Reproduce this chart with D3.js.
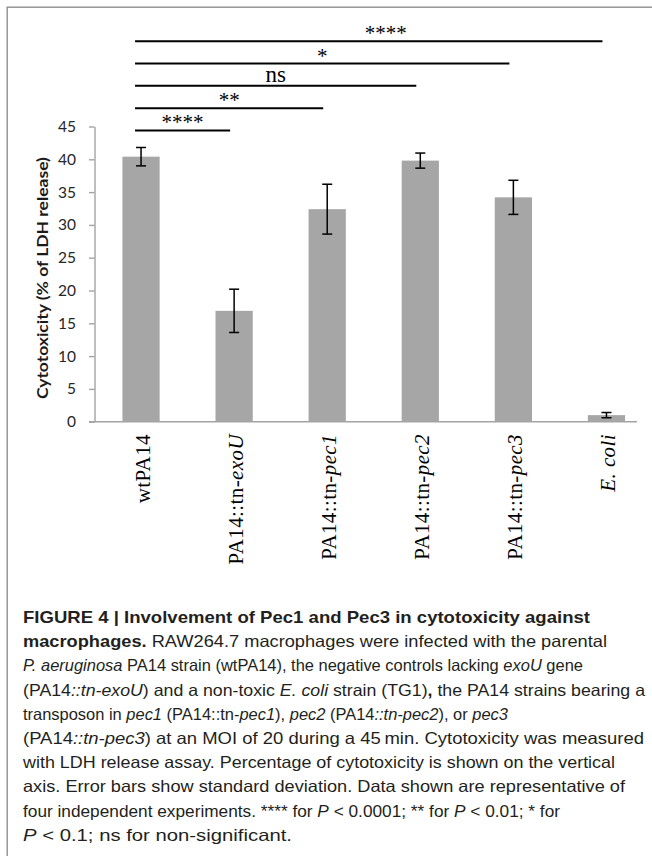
<!DOCTYPE html>
<html>
<head>
<meta charset="utf-8">
<script src="https://cdn.jsdelivr.net/npm/d3@7"></script>
<style>
  html, body { margin: 0; padding: 0; background: #fff; }
  svg { display: block; }
</style>
</head>
<body>
<svg id="chart" width="652" height="856"></svg>
<script>
// ---------------- data ----------------
const categories = ["wtPA14", "PA14::tn-exoU", "PA14::tn-pec1", "PA14::tn-pec2", "PA14::tn-pec3", "E. coli"];
const labelPlain  = ["wtPA14", "PA14::tn-", "PA14::tn-", "PA14::tn-", "PA14::tn-", ""];
const labelItalic = ["", "exoU", "pec1", "pec2", "pec3", "E. coli"];
const cytotoxicity = [40.4, 16.9, 32.4, 39.8, 34.2, 1.0];
const stdDev = [1.4, 3.3, 3.8, 1.15, 2.6, 0.4];
const yTicks = [0, 5, 10, 15, 20, 25, 30, 35, 40, 45];
const yTitle = "Cytotoxicity (% of LDH release)";

// significance brackets: wtPA14 vs target
const sigTargets = ["PA14::tn-exoU", "PA14::tn-pec1", "PA14::tn-pec2", "PA14::tn-pec3", "E. coli"];
const sigLabels  = ["****", "**", "ns", "*", "****"];
const sigLevels  = [44.4, 47.8, 51.2, 54.6, 58.0];

// caption: segments [text, style] (r regular, b bold, i italic)
const captionLines = [
  [["FIGURE 4 | Involvement of Pec1 and Pec3 in cytotoxicity against", "b"]],
  [["macrophages.", "b"], [" RAW264.7 macrophages were infected with the parental", "r"]],
  [["P. aeruginosa", "i"], [" PA14 strain (wtPA14), the negative controls lacking ", "r"], ["exoU", "i"], [" gene", "r"]],
  [["(PA14", "r"], ["::tn-exoU", "i"], [") and a non-toxic ", "r"], ["E. coli", "i"], [" strain (TG1)", "r"], [",", "b"], [" the PA14 strains bearing a", "r"]],
  [["transposon in ", "r"], ["pec1", "i"], [" (PA14::tn-", "r"], ["pec1", "i"], ["), ", "r"], ["pec2", "i"], [" (PA14", "r"], ["::tn-pec2", "i"], ["), or ", "r"], ["pec3", "i"]],
  [["(PA14", "r"], ["::tn-pec3", "i"], [") at an MOI of 20 during a 45\u2009min. Cytotoxicity was measured", "r"]],
  [["with LDH release assay. Percentage of cytotoxicity is shown on the vertical", "r"]],
  [["axis. Error bars show standard deviation. Data shown are representative of", "r"]],
  [["four independent experiments. **** for ", "r"], ["P", "i"], [" < 0.0001; ** for ", "r"], ["P", "i"], [" < 0.01; * for", "r"]],
  [["P", "i"], [" < 0.1; ns for non-significant.", "r"]]
];

// ---------------- layout ----------------
const axisX = 94.5, plotRight = 637, bandRight = 653;
const yBottom = 421.7, yTop = 126.5;
const captionLeft = 23, captionTop = 623, captionLineH = 24.2;
const captionRightEnds = [590, 607, 583, 645, 508, 644, 615, 625, 560, 292];

const svg = d3.select("#chart");

// frame
svg.append("rect")
  .attr("x", 7.2).attr("y", 7.2).attr("width", 700).attr("height", 900)
  .attr("fill", "none").attr("stroke", "#8f8f8f").attr("stroke-width", 1.4);

const x = d3.scaleBand().domain(categories).range([axisX, bandRight])
  .paddingInner(0.6).paddingOuter(0.3);
const y = d3.scaleLinear().domain([0, 45]).range([yBottom, yTop]);

// y axis
const yAxis = d3.axisLeft(y).tickValues(yTicks).tickSize(5.5).tickSizeOuter(0).tickPadding(13);
const gy = svg.append("g").attr("transform", `translate(${axisX},0)`).call(yAxis);
gy.selectAll("path.domain").attr("stroke", "#a3a3a3").attr("stroke-width", 1.4);
gy.selectAll(".tick line").attr("stroke", "#a3a3a3").attr("stroke-width", 1.4);
gy.selectAll(".tick text")
  .attr("font-family", "Lato, 'Open Sans', sans-serif")
  .attr("font-size", 15.5).attr("fill", "#262626");

// x baseline
svg.append("line")
  .attr("x1", axisX - 5.5).attr("x2", plotRight)
  .attr("y1", y(0)).attr("y2", y(0))
  .attr("stroke", "#a3a3a3").attr("stroke-width", 1.4);

// y title
svg.append("text")
  .attr("transform", `translate(48,${(yBottom + yTop) / 2 + 4}) rotate(-90)`)
  .attr("text-anchor", "middle")
  .attr("font-family", "Lato, 'Open Sans', sans-serif")
  .attr("font-weight", "bold").attr("font-size", 15.5).attr("fill", "#1a1a1a")
  .attr("textLength", 242).attr("lengthAdjust", "spacingAndGlyphs")
  .text(yTitle);

// bars
svg.append("g").selectAll("rect").data(categories).join("rect")
  .attr("x", d => x(d))
  .attr("y", (d, i) => y(cytotoxicity[i]))
  .attr("width", x.bandwidth())
  .attr("height", (d, i) => y(0) - y(cytotoxicity[i]))
  .attr("fill", "#a6a6a6");

// error bars
const eg = svg.append("g").attr("stroke", "#000").attr("stroke-width", 1.5);
categories.forEach((c, i) => {
  const cx = x(c) + x.bandwidth() / 2;
  const hi = y(cytotoxicity[i] + stdDev[i]), lo = y(cytotoxicity[i] - stdDev[i]);
  eg.append("line").attr("x1", cx).attr("x2", cx).attr("y1", hi).attr("y2", lo);
  eg.append("line").attr("x1", cx - 5).attr("x2", cx + 5).attr("y1", hi).attr("y2", hi);
  eg.append("line").attr("x1", cx - 5).attr("x2", cx + 5).attr("y1", lo).attr("y2", lo);
});

// x labels
categories.forEach((c, i) => {
  const cx = x(c) + x.bandwidth() / 2 + 1.5;
  const t = svg.append("text")
    .attr("transform", `translate(${cx},${434}) rotate(-90)`)
    .attr("text-anchor", "end").attr("dy", "0.34em")
    .attr("font-family", "'Liberation Serif', 'Times New Roman', serif")
    .attr("font-size", 21).attr("letter-spacing", 0.4).attr("fill", "#000");
  if (labelPlain[i]) t.append("tspan").text(labelPlain[i]);
  if (labelItalic[i]) t.append("tspan").attr("font-style", "italic").text(labelItalic[i]);
});

// significance brackets
const x0 = x(categories[0]) + x.bandwidth() / 2 - 6;
sigTargets.forEach((tg, i) => {
  const x1 = x(tg) + x.bandwidth() / 2 - 4;
  const ly = y(sigLevels[i]);
  svg.append("line").attr("x1", x0).attr("x2", x1).attr("y1", ly).attr("y2", ly)
    .attr("stroke", "#000").attr("stroke-width", 2);
  const isNs = sigLabels[i] === "ns";
  svg.append("text")
    .attr("x", (x0 + x1) / 2 + (i === sigTargets.length - 1 ? 17 : 0))
    .attr("y", ly - (isNs ? 3.5 : 1))
    .attr("text-anchor", "middle")
    .attr("font-family", "'Liberation Serif', 'Times New Roman', serif")
    .attr("font-size", isNs ? 23 : 21).attr("fill", "#000")
    .text(sigLabels[i]);
});

// caption
captionLines.forEach((segs, li) => {
  const t = svg.append("text")
    .attr("x", captionLeft).attr("y", captionTop + li * captionLineH)
    .attr("font-family", "'Liberation Sans', Arial, sans-serif")
    .attr("font-size", 16.5).attr("fill", "#231f20")
    .attr("textLength", captionRightEnds[li] - captionLeft)
    .attr("lengthAdjust", "spacingAndGlyphs");
  segs.forEach(([txt, st]) => {
    const s = t.append("tspan").text(txt);
    if (st === "b") s.attr("font-weight", "bold");
    if (st === "i") s.attr("font-style", "italic");
  });
});
</script>
</body>
</html>
